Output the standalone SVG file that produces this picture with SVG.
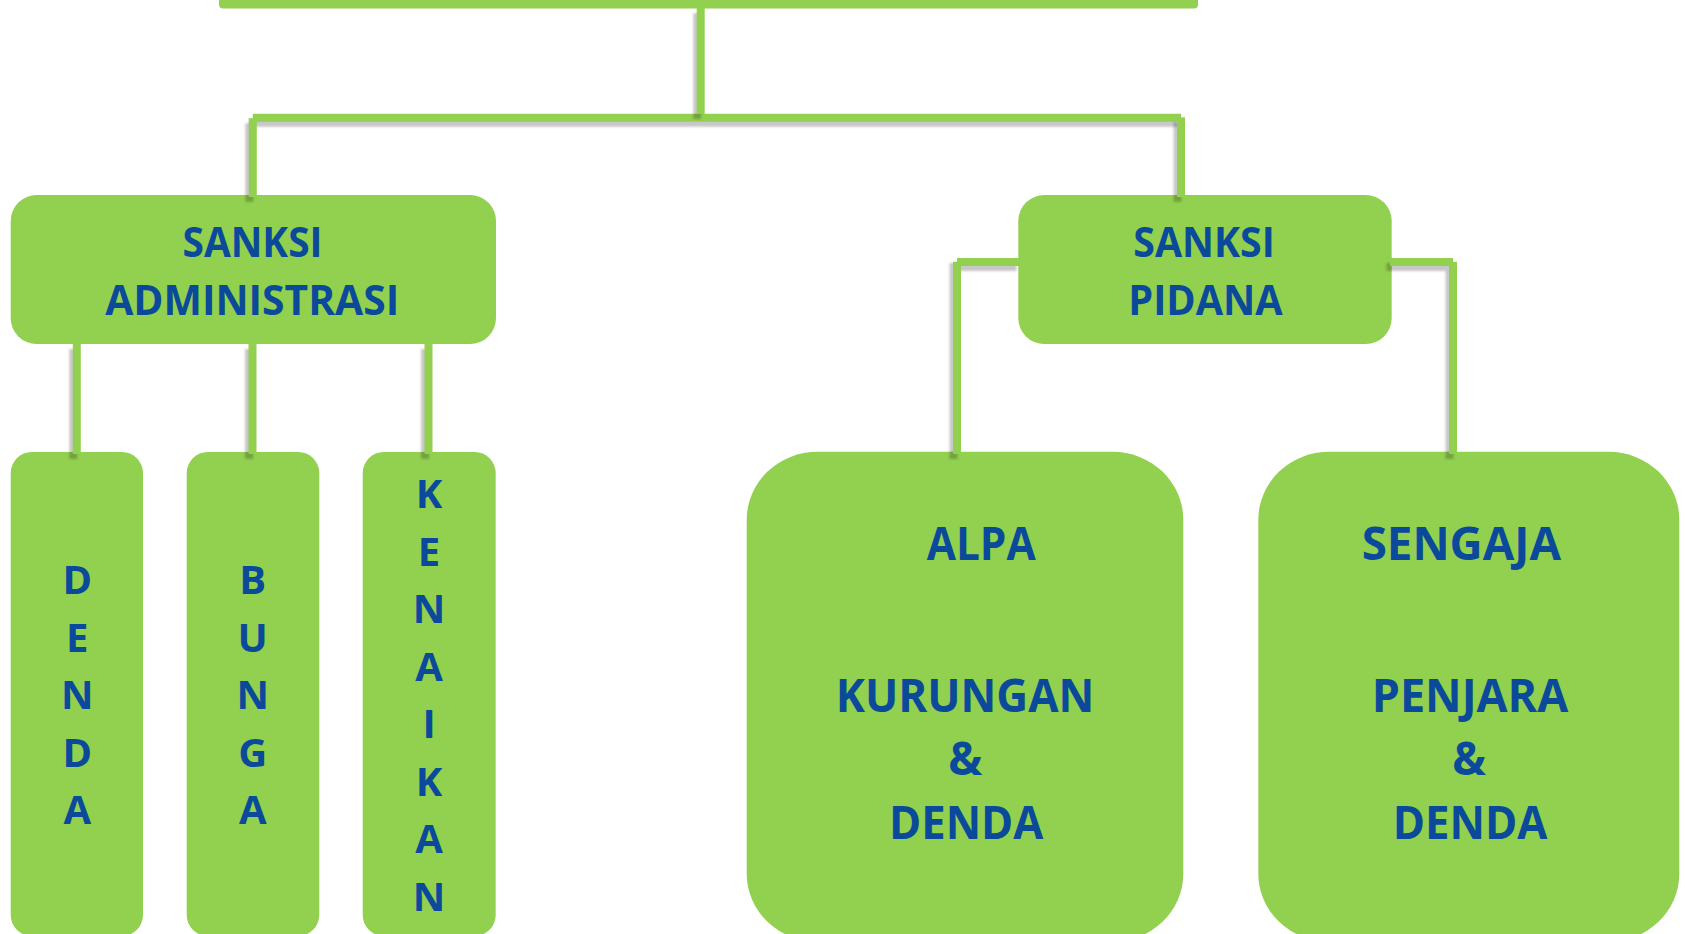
<svg xmlns="http://www.w3.org/2000/svg" width="1685" height="934" viewBox="0 0 1685 934">
<style>
.box{fill:#92D050;}
.sh{fill:none;stroke:#000;stroke-opacity:0.22;stroke-width:8;}
.ln{fill:none;stroke:#92D050;stroke-width:8;}
text{font-family:"Open Sans","Noto Sans","Liberation Sans",sans-serif;font-weight:bold;fill:#0B4A9A;text-anchor:middle;}
.t42{font-size:42px;}
.t40{font-size:40px;}
.t46{font-size:46px;}
</style>
<defs>
<filter id="blur" filterUnits="userSpaceOnUse" x="0" y="0" width="1685" height="934"><feGaussianBlur stdDeviation="0.8"/></filter>
</defs>
<rect width="1685" height="934" fill="#FFFFFF"/>

<g id="root">
<rect class="box" x="219" y="-40" width="979" height="48.5" rx="4"/>
</g>

<g id="sanksi-administrasi">
<rect class="box" x="10.7" y="195" width="485.3" height="149" rx="26"/>
<text class="t42" x="252.5" y="256.7" textLength="140" lengthAdjust="spacingAndGlyphs">SANKSI</text>
<text class="t42" x="252.2" y="315" textLength="294" lengthAdjust="spacingAndGlyphs">ADMINISTRASI</text>
</g>

<g id="sanksi-pidana">
<rect class="box" x="1018.3" y="195" width="373.4" height="149" rx="26"/>
<text class="t42" x="1204" y="256.7" textLength="141.5" lengthAdjust="spacingAndGlyphs">SANKSI</text>
<text class="t42" x="1205.5" y="315" textLength="154.3" lengthAdjust="spacingAndGlyphs">PIDANA</text>
</g>

<g id="denda">
<rect class="box" x="10.7" y="452" width="132.3" height="484" rx="21"/>
<text class="t40"><tspan x="77.3" y="594.3">D</tspan><tspan x="77.3" y="651.7">E</tspan><tspan x="77.3" y="709">N</tspan><tspan x="77.3" y="766.7">D</tspan><tspan x="77.3" y="824.3">A</tspan></text>
</g>

<g id="bunga">
<rect class="box" x="186.7" y="452" width="132.6" height="484" rx="21"/>
<text class="t40"><tspan x="252.7" y="594.3">B</tspan><tspan x="252.7" y="651.7">U</tspan><tspan x="252.7" y="709">N</tspan><tspan x="252.7" y="766.7">G</tspan><tspan x="252.7" y="824.3">A</tspan></text>
</g>

<g id="kenaikan">
<rect class="box" x="362.7" y="452" width="133" height="484" rx="21"/>
<text class="t40"><tspan x="429" y="508.3">K</tspan><tspan x="429" y="565.7">E</tspan><tspan x="429" y="623.3">N</tspan><tspan x="429" y="680.7">A</tspan><tspan x="429" y="738.3">I</tspan><tspan x="429" y="796">K</tspan><tspan x="429" y="853.3">A</tspan><tspan x="429" y="911">N</tspan></text>
</g>

<g id="alpa">
<rect class="box" x="746.7" y="451.7" width="436.6" height="490" rx="71" ry="68"/>
<text class="t46" x="981.2" y="560" textLength="109" lengthAdjust="spacingAndGlyphs">ALPA</text>
<text class="t46" x="965" y="711.7" textLength="258.7" lengthAdjust="spacingAndGlyphs">KURUNGAN</text>
<text class="t46" x="965.3" y="775" textLength="34" lengthAdjust="spacingAndGlyphs">&amp;</text>
<text class="t46" x="966.2" y="839" textLength="154.3" lengthAdjust="spacingAndGlyphs">DENDA</text>
</g>

<g id="sengaja">
<rect class="box" x="1258.3" y="451.7" width="421" height="490" rx="71" ry="68"/>
<text class="t46" x="1461.3" y="560" textLength="199.3" lengthAdjust="spacingAndGlyphs">SENGAJA</text>
<text class="t46" x="1470" y="711.7" textLength="196.7" lengthAdjust="spacingAndGlyphs">PENJARA</text>
<text class="t46" x="1469.2" y="775" textLength="33.7" lengthAdjust="spacingAndGlyphs">&amp;</text>
<text class="t46" x="1470" y="839" textLength="154.7" lengthAdjust="spacingAndGlyphs">DENDA</text>
</g>

<g id="connectors">
<g transform="translate(-3.5,5)" filter="url(#blur)"><path class="sh" d="M252.8,117.8 H1181"/></g>
<path class="ln" d="M252.8,117.8 H1181"/>
<g transform="translate(-3.5,5)" filter="url(#blur)"><path class="sh" d="M700.7,8 V114"/></g>
<path class="ln" d="M700.7,8 V114"/>
<g transform="translate(-3.5,5)" filter="url(#blur)"><path class="sh" d="M252.8,118.3 V197"/></g>
<path class="ln" d="M252.8,118.3 V197"/>
<g transform="translate(-3.5,5)" filter="url(#blur)"><path class="sh" d="M1181,117.3 V197"/></g>
<path class="ln" d="M1181,117.3 V197"/>

<g transform="translate(-3.5,5)" filter="url(#blur)"><path class="sh" d="M76.8,344 V454"/></g>
<path class="ln" d="M76.8,344 V454"/>
<g transform="translate(-3.5,5)" filter="url(#blur)"><path class="sh" d="M252.5,344 V454"/></g>
<path class="ln" d="M252.5,344 V454"/>
<g transform="translate(-3.5,5)" filter="url(#blur)"><path class="sh" d="M428.5,344 V454"/></g>
<path class="ln" d="M428.5,344 V454"/>

<g transform="translate(-3.5,5)" filter="url(#blur)"><path class="sh" d="M1020,262 H957 V454"/></g>
<path class="ln" d="M1020,262 H957 M957,261.7 V454"/>
<g transform="translate(-3.5,5)" filter="url(#blur)"><path class="sh" d="M1390,262 H1453 V454"/></g>
<path class="ln" d="M1390,262 H1453 M1453,261.7 V454"/>
</g>
</svg>
